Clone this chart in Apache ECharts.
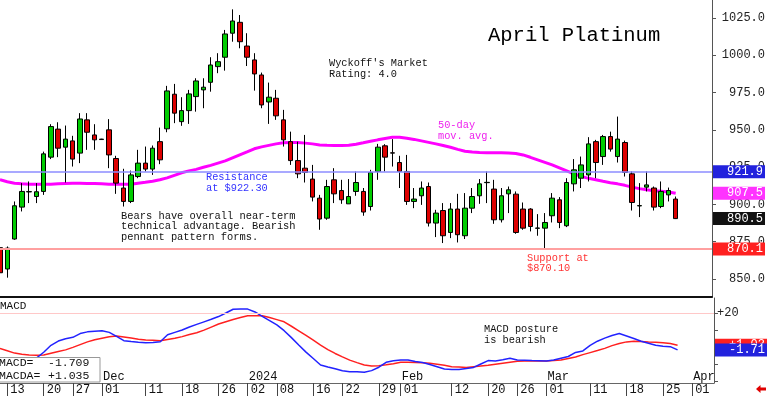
<!DOCTYPE html>
<html><head><meta charset="utf-8">
<script src="https://cdn.jsdelivr.net/npm/echarts@6/dist/echarts.min.js"></script>
<style>html,body{margin:0;padding:0;background:#fff}#c{width:768px;height:396px}</style>
</head><body><div id="c"></div>
<script>
// ---- DATA ----
const categories = [
 '2023-11-10','2023-11-13','2023-11-14','2023-11-15','2023-11-16','2023-11-17',
 '2023-11-20','2023-11-21','2023-11-22','2023-11-24',
 '2023-11-27','2023-11-28','2023-11-29','2023-11-30','2023-12-01',
 '2023-12-04','2023-12-05','2023-12-06','2023-12-07','2023-12-08',
 '2023-12-11','2023-12-12','2023-12-13','2023-12-14','2023-12-15',
 '2023-12-18','2023-12-19','2023-12-20','2023-12-21','2023-12-22',
 '2023-12-26','2023-12-27','2023-12-28','2023-12-29',
 '2024-01-02','2024-01-03','2024-01-04','2024-01-05',
 '2024-01-08','2024-01-09','2024-01-10','2024-01-11','2024-01-12',
 '2024-01-16','2024-01-17','2024-01-18','2024-01-19',
 '2024-01-22','2024-01-23','2024-01-24','2024-01-25','2024-01-26',
 '2024-01-29','2024-01-30','2024-01-31','2024-02-01','2024-02-02',
 '2024-02-05','2024-02-06','2024-02-07','2024-02-08','2024-02-09',
 '2024-02-12','2024-02-13','2024-02-14','2024-02-15','2024-02-16',
 '2024-02-20','2024-02-21','2024-02-22','2024-02-23',
 '2024-02-26','2024-02-27','2024-02-28','2024-02-29','2024-03-01',
 '2024-03-04','2024-03-05','2024-03-06','2024-03-07','2024-03-08',
 '2024-03-11','2024-03-12','2024-03-13','2024-03-14','2024-03-15',
 '2024-03-18','2024-03-19','2024-03-20','2024-03-21','2024-03-22',
 '2024-03-25','2024-03-26','2024-03-27','2024-03-28',
 '2024-04-01','2024-04-02','2024-04-03','2024-04-04'
];
const opens = [871.0,856.7,876.8,898.2,908.4,905.3,908.7,931.7,950.5,938.4,
 942.6,934.4,956.7,946.6,943.8,950.0,930.8,911.0,902.0,918.7,
 927.7,923.7,942.1,950.7,973.9,955.5,962.9,972.3,976.8,981.9,
 992.4,998.7,1014.8,1022.1,1006.2,996.9,986.8,968.7,971.2,956.7,
 942.1,929.4,924.3,917.0,904.2,890.8,916.5,909.3,900.4,908.7,
 908.7,898.6,922.1,939.3,934.6,928.1,922.1,902.0,905.8,912.0,
 887.5,895.9,881.2,896.9,879.0,897.5,905.8,914.6,910.3,889.7,
 907.1,906.9,896.9,896.9,884.0,884.1,892.4,903.1,885.7,913.8,
 917.6,919.8,942.1,932.1,945.5,932.1,941.5,920.5,899.0,911.6,
 911.0,898.6,906.4,903.6];
const closes = [854.2,870.7,899.1,908.7,908.6,908.5,933.9,952.2,937.7,943.8,
 930.4,957.3,948.4,943.3,943.5,933.2,914.3,902.0,919.8,927.7,
 923.7,937.7,929.9,976.1,961.2,962.9,974.1,982.8,978.6,993.5,
 995.7,1014.3,1023.0,1009.1,998.7,987.5,966.7,971.9,959.4,943.3,
 929.4,920.5,921.4,904.9,890.2,912.0,907.1,903.1,905.3,914.7,
 894.9,921.4,938.4,931.7,934.4,922.1,902.0,903.6,911.0,887.5,
 894.2,879.0,896.9,879.7,897.5,905.3,913.8,914.8,889.7,905.8,
 909.8,881.2,884.1,885.2,884.2,887.9,904.2,887.9,914.7,923.2,
 926.5,940.6,928.1,945.5,937.1,943.8,921.4,901.3,899.2,913.1,
 898.2,908.7,909.3,890.5];
const lows = [851.5,850.9,876.3,895.3,900.9,900.9,906.4,930.4,931.7,914.7,
 925.4,927.7,936.6,936.6,943.3,924.3,907.1,898.6,900.9,917.6,
 922.1,919.8,927.0,948.4,954.5,952.7,954.0,962.2,964.5,975.6,
 988.0,989.7,1009.1,1004.7,992.8,976.3,964.5,954.0,956.7,938.8,
 926.5,917.6,914.7,902.0,883.0,889.7,900.9,900.4,900.4,905.8,
 892.4,895.9,916.5,922.1,925.4,911.0,899.7,897.5,899.7,885.2,
 878.1,874.1,877.4,874.5,876.8,894.2,900.4,900.9,887.0,887.9,
 894.2,880.3,883.0,881.9,879.0,870.1,887.9,884.1,884.8,908.7,
 911.0,915.4,917.6,926.5,935.4,928.1,918.7,895.9,891.5,908.7,
 895.9,897.5,902.0,890.2];
const highs = [873.0,871.8,902.0,914.3,915.4,914.3,935.4,953.8,955.1,952.9,
 946.0,961.2,961.2,953.8,944.0,957.2,932.6,923.9,922.7,936.6,
 938.8,939.5,951.5,979.5,980.8,971.9,976.8,984.6,984.6,998.7,
 1001.4,1017.0,1030.8,1027.0,1014.8,1001.4,988.4,981.7,976.8,963.4,
 948.8,942.1,946.6,926.5,906.4,916.5,924.3,916.5,917.0,922.1,
 911.0,923.2,940.6,940.4,943.8,932.6,933.2,911.0,915.4,914.7,
 896.4,900.9,900.9,907.1,907.6,911.0,917.0,922.1,916.5,911.0,
 912.0,908.7,901.3,897.5,893.5,894.2,907.6,904.9,917.6,930.4,
 932.1,945.1,943.3,946.6,948.8,958.9,942.8,922.1,914.3,922.1,
 912.0,915.4,911.3,905.3];
const ma50 = [916.5,915.2,914.2,913.8,913.6,913.5,913.5,913.6,913.8,914.0,
 914.2,914.2,914.1,914.0,913.8,913.6,913.5,913.5,913.6,914.2,
 914.8,915.5,916.5,917.8,919.5,921.2,922.5,923.5,924.9,926.2,
 927.7,929.2,931.2,933.2,935.2,937.3,938.6,939.6,940.6,941.3,
 941.6,941.6,941.1,940.6,939.9,939.6,939.5,939.5,939.7,940.4,
 941.3,942.3,943.3,944.2,945.0,945.0,944.4,943.6,942.6,941.6,
 940.6,939.5,938.3,936.9,935.7,935.1,934.8,934.7,934.6,934.6,
 934.4,934.2,933.2,931.6,929.9,928.2,926.5,924.5,922.5,920.5,
 918.8,917.5,916.5,915.5,914.6,913.8,912.8,911.6,910.6,909.8,
 909.2,908.8,908.4,907.5];
const macd = [-7.5,-8.5,-9.0,-8.5,-7.5,-6.5,-3.1,1.0,3.5,4.9,
 5.7,7.9,8.9,9.3,9.6,8.6,6.2,3.7,3.2,2.8,
 2.5,2.7,3.1,7.2,8.6,10.0,11.8,13.3,14.8,16.3,
 17.9,20.0,22.2,22.4,22.3,20.6,18.0,15.5,13.0,9.6,
 5.5,1.2,-3.0,-6.8,-10.6,-11.8,-12.8,-14.0,-14.5,-14.5,
 -14.8,-13.9,-11.9,-9.0,-8.1,-7.6,-7.6,-8.5,-9.1,-10.3,
 -11.6,-12.9,-13.2,-13.3,-12.7,-12.0,-10.0,-8.0,-8.2,-7.5,
 -6.6,-7.6,-7.8,-8.0,-8.1,-8.2,-7.6,-6.6,-5.6,-3.2,
 -2.3,1.0,3.4,5.2,6.8,7.9,6.5,5.0,3.4,2.2,
 1.0,0.5,0.2,-1.709];
const signal = [-0.8,-2.2,-3.6,-4.3,-4.7,-4.9,-4.7,-3.7,-2.7,-1.7,
 -0.2,1.4,3.0,4.3,5.2,6.0,6.5,5.9,5.3,4.6,
 4.1,3.9,3.7,4.4,5.1,6.1,7.3,8.4,9.9,11.7,
 13.5,14.9,16.2,17.3,18.4,18.4,18.4,17.3,16.1,14.8,
 12.2,9.5,6.8,4.0,1.1,-1.5,-3.8,-5.8,-7.7,-9.2,
 -10.6,-11.2,-11.0,-10.5,-9.8,-9.0,-9.0,-9.1,-9.3,-9.6,
 -10.1,-10.8,-11.6,-11.8,-12.0,-11.6,-11.2,-10.8,-10.2,-9.6,
 -9.0,-8.4,-8.3,-8.3,-8.2,-8.2,-8.0,-7.6,-6.8,-5.9,
 -4.5,-3.3,-2.1,-0.8,0.8,2.0,3.0,3.4,3.3,3.0,
 2.8,2.5,2.0,1.035];
const priceTicks = [850,875,900,925,950,975,1000,1025];
const macdTicks = [-20,-10,0,10,20];
const macdLabels = [20];
const dayTicks = ['2023-11-13','2023-11-20','2023-11-27','2023-12-01','2023-12-11','2023-12-18',
 '2023-12-26','2024-01-02','2024-01-08','2024-01-16','2024-01-22','2024-01-29','2024-02-01',
 '2024-02-12','2024-02-20','2024-02-26','2024-03-01','2024-03-11','2024-03-18','2024-03-25','2024-04-01'];
const monthDates = ['2023-12-01','2024-01-02','2024-02-01','2024-03-01','2024-04-01'];
const monthNames = ['Dec','2024','Feb','Mar','Apr'];
const resistance = 921.9;
const support = 870.1;

// ---- CHART ----
const MONO = "'Liberation Mono','DejaVu Sans Mono',monospace";
const chart = echarts.init(document.getElementById('c'), null, {renderer:'canvas', width:768, height:396});
const candleData = opens.map((o, i) => [o, closes[i], lows[i], highs[i]]);
const last = closes.length - 1;
const f1 = p => p.value.toFixed(1);
const fs = v => (v >= 0 ? '+' : '') + v;
const HIDDEN = {color: 'rgba(0,0,0,0)', width: 1, type: 'solid'};

function tag(value, bg, fmt, lineStyle) {
  return {
    yAxis: value,
    lineStyle: lineStyle || HIDDEN,
    label: {show: true, position: 'end', distance: 1, formatter: fmt, color: '#fff',
      backgroundColor: bg, padding: [1, 2, 1, 14], lineHeight: 11,
      fontFamily: MONO, fontSize: 12}
  };
}
function txt(x, y, text, size, color, lh) {
  return {type: 'text', x: x, y: y, z: 50, silent: true,
    style: {text: text, fontFamily: MONO, fontSize: size, fill: color, lineHeight: lh || size,
      verticalAlign: 'top', align: 'left'}};
}

const option = {
  animation: false,
  backgroundColor: '#fff',
  grid: [
    {left: 0, right: 54, top: 0, height: 297},
    {left: 0, right: 54, top: 298, height: 85}
  ],
  xAxis: [
    {gridIndex: 0, type: 'category', data: categories, boundaryGap: false,
     axisLine: {show: true, onZero: false, lineStyle: {color: '#111', width: 2}},
     axisTick: {show: false}, axisLabel: {show: false}, splitLine: {show: false}},
    {gridIndex: 1, type: 'category', data: categories, boundaryGap: false,
     axisLine: {show: true, onZero: false, lineStyle: {color: '#666', width: 1}},
     axisTick: {show: true, length: 13, interval: (i, v) => dayTicks.includes(v), lineStyle: {color: '#444'}},
     axisLabel: {interval: (i, v) => dayTicks.includes(v), formatter: v => v.slice(8),
       align: 'left', margin: 1, padding: [0, 0, 0, 3], fontFamily: MONO, fontSize: 12, color: '#111'},
     splitLine: {show: false}},
    {gridIndex: 1, type: 'category', data: categories, boundaryGap: false, position: 'bottom',
     axisLine: {show: false}, axisTick: {show: false},
     axisLabel: {inside: true, interval: (i, v) => monthDates.includes(v),
       formatter: v => monthNames[monthDates.indexOf(v)], align: 'left', margin: 0,
       padding: [0, 0, 0, 1], fontFamily: MONO, fontSize: 12, color: '#111'},
     splitLine: {show: false}}
  ],
  yAxis: [
    {gridIndex: 0, type: 'value', position: 'right', min: 837.93, max: 1037.07, scale: true,
     axisLine: {show: true, lineStyle: {color: '#555'}},
     axisTick: {show: true, length: 4, customValues: priceTicks, lineStyle: {color: '#555'}},
     axisLabel: {customValues: priceTicks, formatter: v => v.toFixed(1), align: 'right', margin: 53,
       fontFamily: MONO, fontSize: 12, color: '#222'},
     splitLine: {show: false}},
    {gridIndex: 1, type: 'value', position: 'right', min: -21.18, max: 28.82, scale: true,
     axisLine: {show: true, lineStyle: {color: '#555'}},
     axisTick: {show: true, length: 4, customValues: macdTicks, lineStyle: {color: '#555'}},
     axisLabel: {customValues: macdLabels, formatter: fs, margin: 3,
       fontFamily: MONO, fontSize: 12, color: '#222'},
     splitLine: {show: false}}
  ],
  series: [
    {name: 'MA50', type: 'line', xAxisIndex: 0, yAxisIndex: 0, data: ma50, symbol: 'none',
     lineStyle: {color: '#ff00ff', width: 3}, z: 2, clip: true,
     markLine: {symbol: ['none', 'none'], silent: true, animation: false,
       lineStyle: {type: 'solid'},
       data: [
         tag(resistance, '#2222dd', f1, {color: '#8c8cff', width: 1.5, type: 'solid'}),
         tag(support, '#ff2020', f1, {color: '#ffa0a0', width: 2, type: 'solid'}),
         tag(ma50[last], '#ff33ff', f1)
       ]}},
    {name: 'Price', type: 'candlestick', xAxisIndex: 0, yAxisIndex: 0, data: candleData,
     barWidth: 5, z: 3, clip: true,
     itemStyle: {color: '#00cc00', color0: '#dd0000', borderColor: '#000', borderColor0: '#000', borderWidth: 1},
     markLine: {symbol: ['none', 'none'], silent: true, animation: false,
       data: [tag(closes[last], '#111111', f1)]}},
    {name: 'Signal', type: 'line', xAxisIndex: 1, yAxisIndex: 1, data: signal, symbol: 'none',
     lineStyle: {color: '#ff2020', width: 1.5}, z: 2,
     markLine: {symbol: ['none', 'none'], silent: true, animation: false,
       data: [
         {yAxis: 20, lineStyle: {color: '#ffc8c8', width: 1, type: 'solid'}, label: {show: false}},
         tag(signal[last], '#ff2020', p => fs(p.value.toFixed(2)))
       ]}},
    {name: 'MACD', type: 'line', xAxisIndex: 1, yAxisIndex: 1, data: macd, symbol: 'none',
     lineStyle: {color: '#2222ff', width: 1.5}, z: 3,
     markLine: {symbol: ['none', 'none'], silent: true, animation: false,
       data: [tag(macd[last], '#2222dd', p => fs(p.value.toFixed(2)))]}}
  ],
  graphic: [
    txt(488, 25, 'April Platinum', 20.5, '#000'),
    txt(329, 58.2, "Wyckoff's Market\nRating: 4.0", 10.3, '#111', 10.4),
    txt(438, 119.6, '50-day\nmov. avg.', 10.3, '#ee22ee', 10.8),
    txt(206, 172.1, 'Resistance\nat $922.30', 10.3, '#3333ff', 10.8),
    txt(121, 210.5, 'Bears have overall near-term\ntechnical advantage. Bearish\npennant pattern forms.', 10.4, '#111', 10.7),
    txt(527, 252.7, 'Support at\n$870.10', 10.3, '#ff3333', 10.3),
    txt(484, 323.9, 'MACD posture\nis bearish', 10.3, '#111', 10.6),
    txt(0, 300.3, 'MACD', 11, '#111'),
    {type: 'rect', z: 49, silent: true, shape: {x: -1, y: 357.5, width: 101, height: 24.5},
     style: {fill: '#fff', stroke: '#999', lineWidth: 1}},
    txt(-1, 357, 'MACD=', 11.5, '#111'),
    txt(-1, 370, 'MACDA=', 11.5, '#111'),
    txt(48, 357, macd[last].toFixed(3), 11.5, '#111'),
    txt(48, 370, fs(signal[last].toFixed(3)), 11.5, '#111'),
    {type: 'polygon', z: 50, silent: true,
     shape: {points: [[756, 389], [760.5, 385], [760.5, 387.5], [766, 387.5], [766, 390.5], [760.5, 390.5], [760.5, 393]]},
     style: {fill: '#e00000'}}
  ]
};
chart.setOption(option);
</script>
</body></html>
